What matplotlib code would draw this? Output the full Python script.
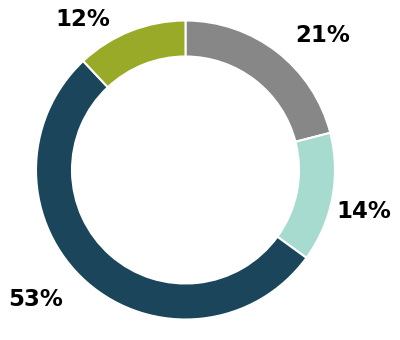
#!/usr/bin/env python3
"""Donut chart of shares."""

import matplotlib
matplotlib.use("Agg")
from matplotlib import pyplot as plt

shares = [21, 14, 53, 12]
labels = ["21%", "14%", "53%", "12%"]
colors = ["#878787", "#a8dbd0", "#1a455a", "#99aa29"]

# label anchor points, in pixels from the top-left of the image
label_px = [(323, 36), (364, 212), (36, 300), (83, 20)]

W, H = 400, 340
fig = plt.figure(figsize=(W / 100, H / 100), dpi=100)
ax = fig.add_axes([0, 0, 1, 1])
ax.pie(
    shares,
    colors=colors,
    startangle=90,
    counterclock=False,
    radius=149.5,
    center=(185.5, H - 170),
    wedgeprops=dict(width=36, edgecolor="white", linewidth=1.5),
)
for text, (x, y) in zip(labels, label_px):
    ax.text(x, H - y, text, ha="center", va="center",
            fontsize=16.5, fontweight="bold", color="black",
            family="DejaVu Sans")
ax.set_xlim(0, W)
ax.set_ylim(0, H)
ax.set_aspect("equal")
ax.axis("off")
fig.savefig("out.png", dpi=100)
